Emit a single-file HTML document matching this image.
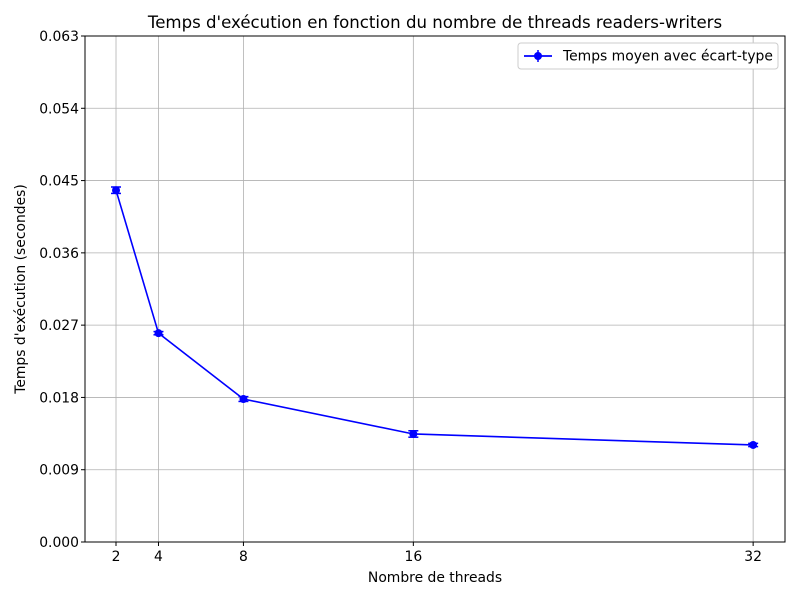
<!DOCTYPE html>
<html><head><meta charset="utf-8"><style>
body{margin:0;background:#fff;}
svg{font-family:"DejaVu Sans","Liberation Sans",sans-serif;}
</style></head><body>
<svg id="chart" width="800" height="600" viewBox="0 0 800 600">
<rect width="800" height="600" fill="#fff"/>
<text x="435" y="28" font-size="16.6" text-anchor="middle">Temps d'exécution en fonction du nombre de threads readers-writers</text>
<text x="435" y="582" font-size="13.9" text-anchor="middle">Nombre de threads</text>
<text transform="translate(25,289) rotate(-90)" font-size="13.9" text-anchor="middle">Temps d'exécution (secondes)</text>
<g id="grid"></g>
<g id="marks"></g>
<rect x="85" y="36" width="700" height="506" fill="none" stroke="#000" stroke-width="1"/>
<g>
<rect x="518" y="43" width="260" height="26" rx="3" fill="#fff" stroke="#ccc"/>
<line x1="524" y1="56" x2="552" y2="56" stroke="#0000ff" stroke-width="1.8"/>
<line x1="538" y1="50" x2="538" y2="62" stroke="#0000ff" stroke-width="1.5"/>
<circle cx="538" cy="56" r="4" fill="#0000ff"/>
<text x="563" y="60.5" font-size="13.9">Temps moyen avec écart-type</text>
</g>
</svg>
<script>
const threads = [2, 4, 8, 16, 32];
const meanTimes = [0.0438, 0.0260, 0.0178, 0.01345, 0.01208];
const stdDevs = [0.0004, 0.0002, 0.0003, 0.0004, 0.0002];
const yTicks = [0, 0.009, 0.018, 0.027, 0.036, 0.045, 0.054, 0.063];
const yTickLabels = ["0.000","0.009","0.018","0.027","0.036","0.045","0.054","0.063"];
const xTicks = [2, 4, 8, 16, 32];

const NS = "http://www.w3.org/2000/svg";
const L=85,R=785,T=36,B=542, xMin=0.54, xMax=33.5, yMin=0, yMax=0.063;
const xs = v => L + (v-xMin)/(xMax-xMin)*(R-L);
const ys = v => B - (v-yMin)/(yMax-yMin)*(B-T);
function mk(tag, attrs, parent){const e=document.createElementNS(NS,tag);for(const k in attrs)e.setAttribute(k,attrs[k]);parent.appendChild(e);return e;}
const grid=document.getElementById('grid'), marks=document.getElementById('marks');
yTicks.forEach((t,i)=>{
  const y=ys(t);
  const g=mk('line',{x1:L,x2:R,y1:y,y2:y,stroke:'#b0b0b0','stroke-width':0.8},grid);
  
  
  mk('line',{x1:L-4,x2:L,y1:y,y2:y,stroke:'#000'},grid);
  const tx=mk('text',{x:L-6,y:y+5,'font-size':13.9,'text-anchor':'end'},grid);
  tx.textContent=yTickLabels[i];
  
  
});
xTicks.forEach(t=>{
  const x=xs(t);
  const g=mk('line',{x1:x,x2:x,y1:T,y2:B,stroke:'#b0b0b0','stroke-width':0.8},grid);
  
  
  mk('line',{x1:x,x2:x,y1:B,y2:B+4,stroke:'#000'},grid);
  const tx=mk('text',{x:x,y:B+19,'font-size':13.9,'text-anchor':'middle'},grid);
  tx.textContent=String(t);
  
  
});
const pts=threads.map((t,i)=>xs(t)+','+ys(meanTimes[i])).join(' ');
const pl=mk('polyline',{points:pts,fill:'none',stroke:'#0000ff','stroke-width':1.6},marks);


threads.forEach((t,i)=>{
  const x=xs(t), y1=ys(meanTimes[i]-stdDevs[i]), y2=ys(meanTimes[i]+stdDevs[i]);
  mk('line',{x1:x,x2:x,y1:y1,y2:y2,stroke:'#0000ff','stroke-width':1.5},marks);
  mk('line',{x1:x-5,x2:x+5,y1:y1,y2:y1,stroke:'#0000ff','stroke-width':1.5},marks);
  mk('line',{x1:x-5,x2:x+5,y1:y2,y2:y2,stroke:'#0000ff','stroke-width':1.5},marks);
  const c=mk('circle',{cx:x,cy:ys(meanTimes[i]),r:4,fill:'#0000ff'},marks);
  
  
});
</script>
</body></html>
